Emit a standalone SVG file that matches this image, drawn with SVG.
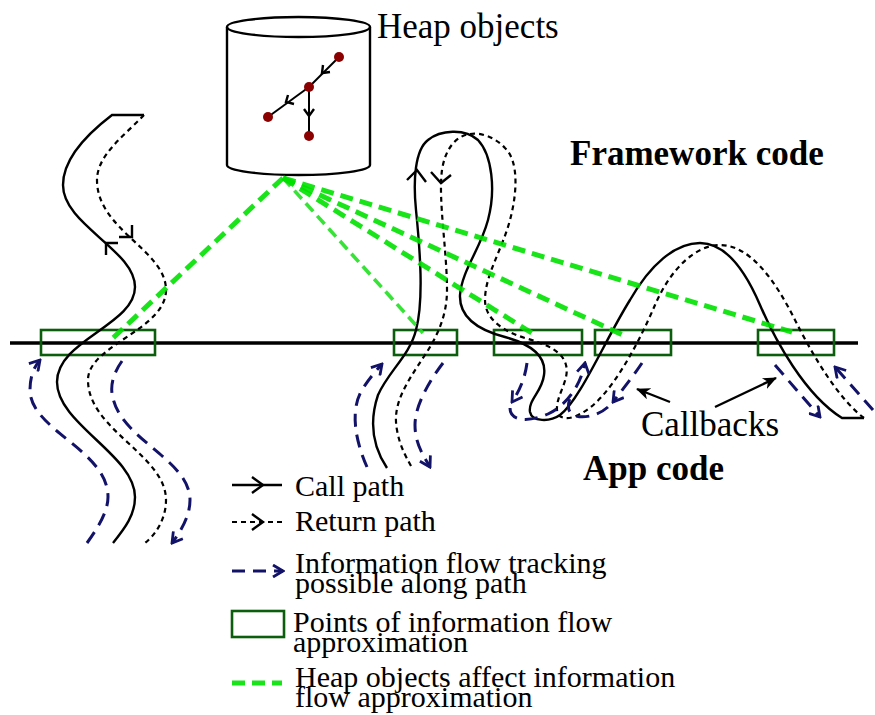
<svg xmlns="http://www.w3.org/2000/svg" width="875" height="715" viewBox="0 0 875 715">
  <style>
    .call { fill: none; stroke: #000; stroke-width: 2.4; }
    .ret { fill: none; stroke: #000; stroke-width: 2.2; stroke-dasharray: 5 4; }
    .head { fill: none; stroke: #000; stroke-width: 2.4; }
    .flow { fill: none; stroke: #121268; stroke-width: 3; stroke-dasharray: 13 8; marker-end: url(#flowHead); }
    .flow-plain { fill: none; stroke: #121268; stroke-width: 3; stroke-dasharray: 13 8; }
    .approx { fill: none; stroke: #0b5e0b; stroke-width: 2.6; }
    .heap { fill: none; stroke: #00e000; stroke-width: 5; stroke-dasharray: 13 7; opacity: 0.9; }
    .heap-thin { fill: none; stroke: #22e022; stroke-width: 3.6; stroke-dasharray: 11 6; opacity: 0.9; }
    .label { font-family: "Liberation Serif", "Times New Roman", serif; fill: #000; }
    .big { font-size: 35px; }
    .bold { font-size: 35px; font-weight: bold; }
    .legend { font-size: 30px; }
  </style>
  <defs>
    <marker id="flowHead" viewBox="0 0 14 14" refX="12" refY="7" markerWidth="14" markerHeight="14" markerUnits="userSpaceOnUse" orient="auto">
      <path d="M2,1 L12,7 L2,13" fill="none" stroke="#121268" stroke-width="2.8" stroke-dasharray="none"/>
    </marker>
    <marker id="solidHead" viewBox="0 0 14 12" refX="13" refY="6" markerWidth="14" markerHeight="12" markerUnits="userSpaceOnUse" orient="auto">
      <path d="M0,0 L14,6 L0,12 L4,6 Z" fill="#000"/>
    </marker>
  </defs>

  <!-- boundary between framework and app code -->
  <line x1="10" y1="343" x2="858" y2="343" stroke="#000" stroke-width="3.5"/>

  <!-- heap store -->
  <g id="heap">
    <path d="M227,27 L227,165 A71.5,10 0 0 0 370,165 L370,27" fill="none" stroke="#000" stroke-width="2.4"/>
    <ellipse cx="298.5" cy="27" rx="71.5" ry="10" fill="none" stroke="#000" stroke-width="2.4"/>
    <g stroke="#000" stroke-width="2">
      <line x1="339" y1="57" x2="309" y2="87"/>
      <line x1="309" y1="87" x2="268" y2="117"/>
      <line x1="309" y1="87" x2="309" y2="136"/>
    </g>
    <g class="head" stroke-width="2">
      <path d="M323,65 L322,73 L330,72"/>
      <path d="M288,95 L286,102 L294,104"/>
      <path d="M304,109 L309,116 L314,109"/>
    </g>
    <g fill="#8b0000">
      <circle cx="339" cy="57" r="5"/>
      <circle cx="309" cy="87" r="5"/>
      <circle cx="268" cy="117" r="5"/>
      <circle cx="309" cy="136" r="5"/>
    </g>
    <text class="label big" x="377" y="38">Heap objects</text>
  </g>

  <!-- points of information flow approximation -->
  <g id="approx-points">
    <rect class="approx" x="41" y="330" width="114" height="25"/>
    <rect class="approx" x="394" y="330" width="63" height="25"/>
    <rect class="approx" x="494" y="330" width="88" height="25"/>
    <rect class="approx" x="595" y="330" width="76" height="25"/>
    <rect class="approx" x="758" y="330" width="76" height="25"/>
  </g>

  <g id="connectors">
    <!-- left call / return path -->
    <path class="call" d="M113,543 C125,528 135,515 135,497 C135,455 57,424 57,382 C57,340 135,325 135,287 C135,250 63,225 63,185 C63,155 95,128 112,115 L144,115"/>
    <path class="ret" d="M144,115 C125,135 97,155 97,180 C97,230 166,250 166,290 C166,330 88,345 88,380 C88,430 166,455 166,500 C166,520 155,535 145,543"/>
    <path class="head" d="M106,255 L106,243 L118,243"/>
    <path class="head" d="M132,225 L132,237 L119,237"/>

    <!-- call path looping through the framework and into callbacks -->
    <path class="call" d="M387,468 C375,450 368,425 378,395 C388,372 410,355 416,330 C424,300 420,250 416,210 C413,180 415,150 428,140 C440,130 465,128 478,140 C492,155 496,190 488,220 C480,250 462,270 460,295 C459,318 478,330 505,337 C530,344 547,355 544,375 C542,392 528,400 530,412 C532,422 550,422 560,415 C580,400 605,340 630,300 C650,265 675,243 700,243 C725,243 745,270 760,305 C775,340 805,395 842,418 L864,418"/>
    <path class="ret" d="M864,418 C840,400 815,360 795,320 C775,280 750,245 720,245 C695,245 670,270 655,305 C640,340 610,400 580,414 C570,420 558,420 557,410 C556,395 570,380 566,365 C562,350 545,344 525,338 C505,332 485,320 485,300 C485,275 502,250 510,220 C518,190 518,160 505,148 C495,137 480,132 470,134 C455,136 445,150 442,170 C438,200 447,250 447,290 C447,315 438,335 425,355 C405,385 392,405 397,430 C400,448 408,460 412,468"/>
    <path class="head" d="M407,180 L417,170 L426,182"/>
    <path class="head" d="M431,172 L441,183 L451,175"/>

    <!-- information flow tracking -->
    <path class="flow" d="M87,543 C100,525 108,510 108,497 C108,450 30,430 30,390 C30,378 33,368 40,360"/>
    <path class="flow" d="M122,361 C112,375 110,388 113,398 C122,440 190,460 190,500 C190,515 182,530 172,543"/>
    <path class="flow" d="M367,467 C355,440 350,410 362,390 C368,380 375,372 382,364"/>
    <path class="flow" d="M443,363 C430,380 415,405 415,425 C415,445 425,458 430,467"/>
    <path class="flow" d="M527,363 C525,378 520,390 512,402"/>
    <path class="flow" d="M510,408 C510,422 530,422 548,414 C565,406 580,388 585,363"/>
    <path class="flow" d="M642,363 C632,378 622,390 613,402"/>
    <path class="flow-plain" d="M608,407 C598,416 580,420 572,414 C567,410 568,404 570,398"/>
    <path class="flow" d="M775,365 L820,417"/>
    <path class="flow" d="M873,410 L835,367"/>

    <!-- heap objects influencing approximation points -->
    <line class="heap" x1="283" y1="178" x2="113" y2="338"/>
    <line class="heap-thin" x1="283" y1="178" x2="423" y2="333"/>
    <line class="heap" x1="283" y1="178" x2="535" y2="335"/>
    <line class="heap" x1="283" y1="178" x2="623" y2="335"/>
    <line class="heap" x1="283" y1="178" x2="792" y2="332"/>

    <!-- callback pointers -->
    <line x1="670" y1="402" x2="637" y2="389" stroke="#000" stroke-width="2.4" marker-end="url(#solidHead)"/>
    <line x1="715" y1="407" x2="776" y2="378" stroke="#000" stroke-width="2.4" marker-end="url(#solidHead)"/>
  </g>

  <g id="labels">
    <text class="label bold" x="570" y="165">Framework code</text>
    <text class="label bold" x="583" y="480">App code</text>
    <text class="label big" x="641" y="436">Callbacks</text>
  </g>

  <g id="legend">
    <g id="legend-call">
      <line x1="232" y1="485" x2="282" y2="485" stroke="#000" stroke-width="2.4"/>
      <path class="head" d="M252,477 L263,485 L252,493"/>
      <text class="label legend" x="295" y="496">Call path</text>
    </g>
    <g id="legend-return">
      <line class="ret" x1="232" y1="522" x2="282" y2="522"/>
      <path class="head" d="M252,514 L263,522 L252,530"/>
      <text class="label legend" x="295" y="531">Return path</text>
    </g>
    <g id="legend-flow">
      <line class="flow" x1="232" y1="571" x2="283" y2="571"/>
      <text class="label legend" x="295" y="573">Information flow tracking<tspan x="295" dy="20">possible along path</tspan></text>
    </g>
    <g id="legend-approx">
      <rect class="approx" x="232" y="611" width="52" height="26"/>
      <text class="label legend" x="293" y="632">Points of information flow<tspan x="293" dy="20">approximation</tspan></text>
    </g>
    <g id="legend-heap">
      <line class="heap" x1="232" y1="683" x2="282" y2="683" stroke-dasharray="12 6"/>
      <text class="label legend" x="295" y="687">Heap objects affect information<tspan x="295" dy="20">flow approximation</tspan></text>
    </g>
  </g>
</svg>
